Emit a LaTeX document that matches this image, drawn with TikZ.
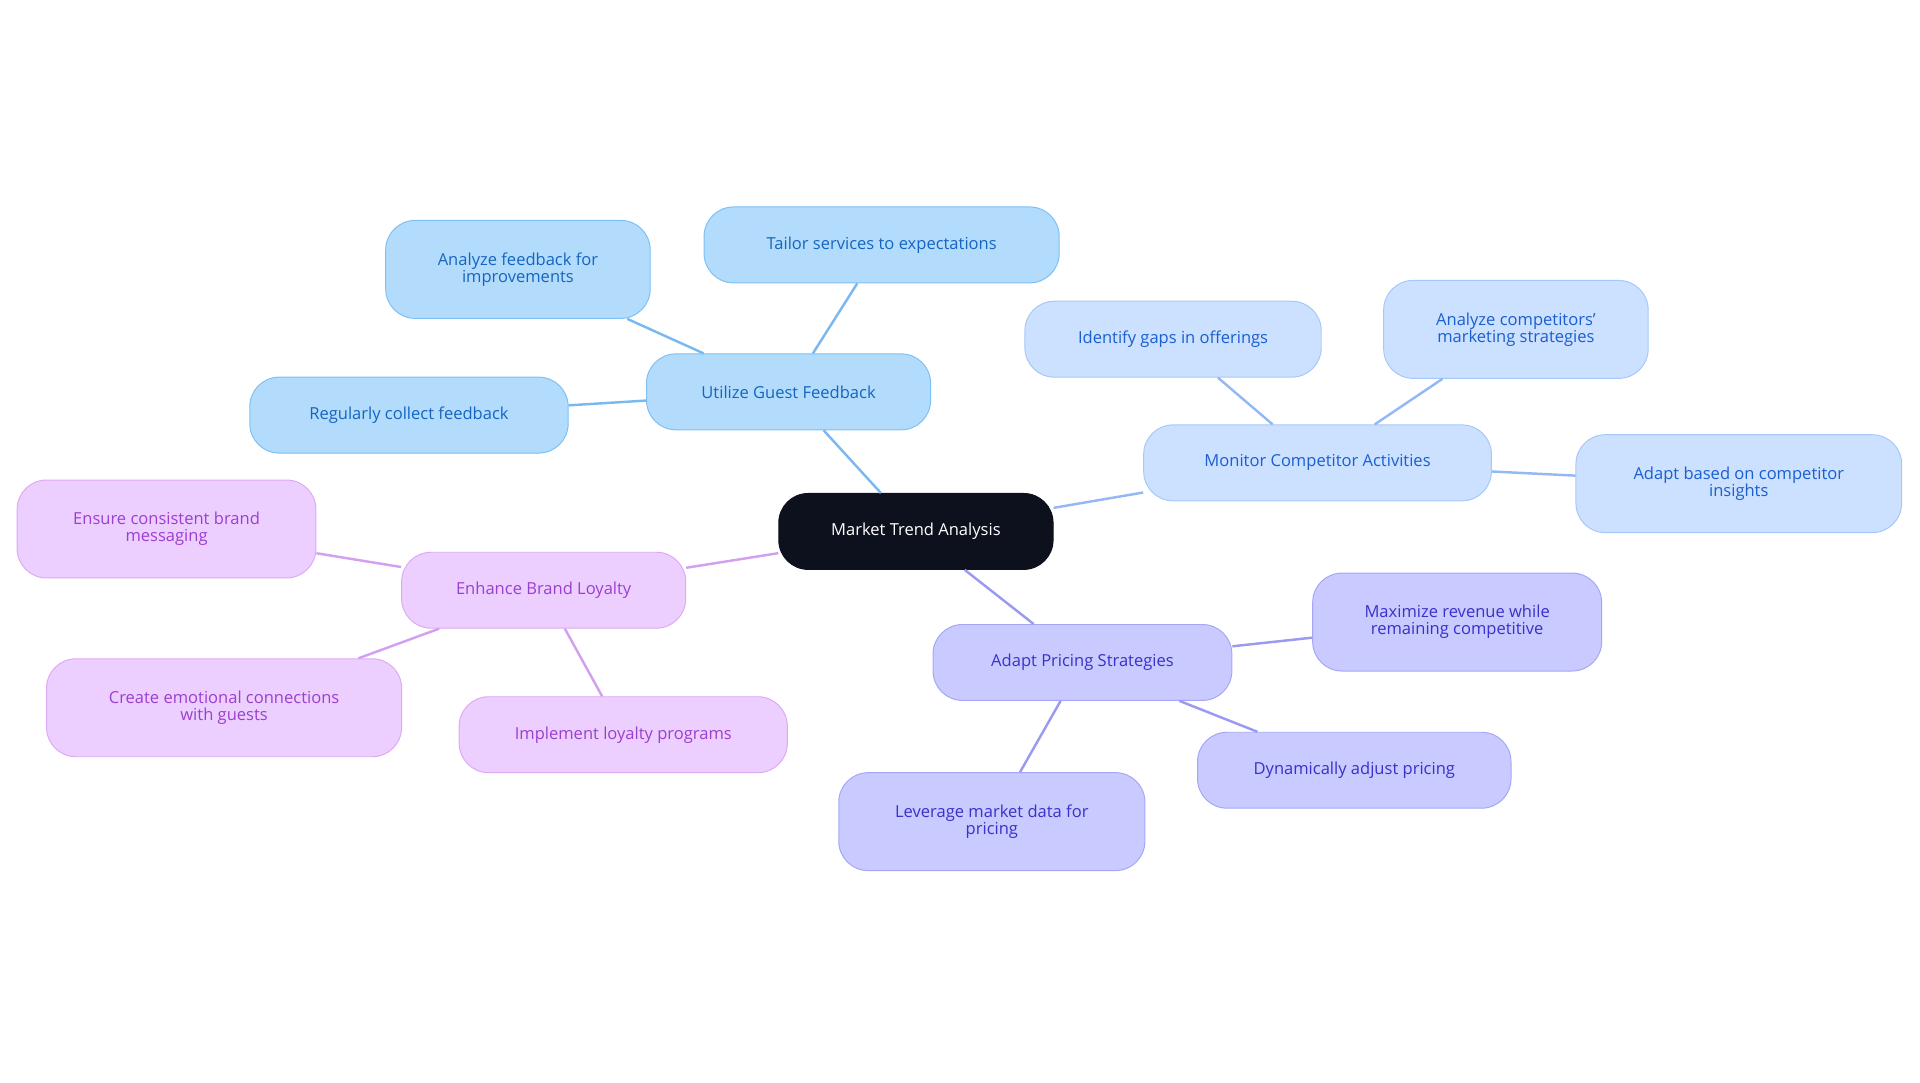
\documentclass[tikz,border=0pt]{standalone}
\usepackage{fontspec}
\setmainfont{Open Sans}
\begin{document}
\begin{tikzpicture}[x=1pt,y=1pt,
 base/.style={draw,line width=0.8pt,rounded corners=24pt,align=center,inner sep=0pt,font=\fontsize{13.5}{14}\selectfont},
 root/.style={base,fill=c0,draw=c0,text=white,minimum width=224pt,minimum height=62pt},
 gbox/.style={base,fill=gF,draw=gD,text=gT},
 cbox/.style={base,fill=cF,draw=cD,text=cT},
 pbox/.style={base,fill=pF,draw=pD,text=pT},
 lbox/.style={base,fill=lF,draw=lD,text=lT},
 ge/.style={draw=gE,line width=2pt},
 ce/.style={draw=cE,line width=2pt},
 pe/.style={draw=pE,line width=2pt},
 le/.style={draw=lE,line width=2pt}]
\definecolor{c0}{HTML}{0C111D}
\definecolor{gF}{HTML}{B3DCFC}\definecolor{gD}{HTML}{7CC0F5}\definecolor{gT}{HTML}{1565C0}\definecolor{gE}{HTML}{7AB8F0}
\definecolor{cF}{HTML}{CCE0FF}\definecolor{cD}{HTML}{A6C8F8}\definecolor{cT}{HTML}{1A5FD0}\definecolor{cE}{HTML}{93B8F5}
\definecolor{pF}{HTML}{C9CAFF}\definecolor{pD}{HTML}{A5A6F6}\definecolor{pT}{HTML}{3B30C8}\definecolor{pE}{HTML}{9A9AF0}
\definecolor{lF}{HTML}{ECCFFF}\definecolor{lD}{HTML}{DCAAF5}\definecolor{lT}{HTML}{9B3FD0}\definecolor{lE}{HTML}{D3A0F0}
\useasboundingbox (0,0) rectangle (1568,-884);
\node[root] (r) at (748,-434) {Market Trend Analysis};
\node[gbox,minimum width=232pt,minimum height=62pt] (g) at (644,-320) {Utilize Guest Feedback};
\node[gbox,minimum width=216pt,minimum height=80pt] (g1) at (423,-220) {Analyze feedback for\\improvements};
\node[gbox,minimum width=290pt,minimum height=62pt] (g2) at (720,-200) {Tailor services to expectations};
\node[gbox,minimum width=260pt,minimum height=62pt] (g3) at (334,-339) {Regularly collect feedback};
\node[cbox,minimum width=284pt,minimum height=62pt] (c) at (1076,-378) {Monitor Competitor Activities};
\node[cbox,minimum width=242pt,minimum height=62pt] (c1) at (958,-277) {Identify gaps in offerings};
\node[cbox,minimum width=216pt,minimum height=80pt] (c2) at (1238,-269) {Analyze competitors'\\marketing strategies};
\node[cbox,minimum width=266pt,minimum height=80pt] (c3) at (1420,-395) {Adapt based on competitor\\insights};
\node[pbox,minimum width=244pt,minimum height=62pt] (p) at (884,-541) {Adapt Pricing Strategies};
\node[pbox,minimum width=236pt,minimum height=80pt] (p1) at (1190,-508) {Maximize revenue while\\remaining competitive};
\node[pbox,minimum width=256pt,minimum height=62pt] (p2) at (1106,-629) {Dynamically adjust pricing};
\node[pbox,minimum width=250pt,minimum height=80pt] (p3) at (810,-671) {Leverage market data for\\pricing};
\node[lbox,minimum width=232pt,minimum height=62pt] (l) at (444,-482) {Enhance Brand Loyalty};
\node[lbox,minimum width=244pt,minimum height=80pt] (l1) at (136,-432) {Ensure consistent brand\\messaging};
\node[lbox,minimum width=290pt,minimum height=80pt] (l2) at (183,-578) {Create emotional connections\\with guests};
\node[lbox,minimum width=268pt,minimum height=62pt] (l3) at (509,-600) {Implement loyalty programs};
\draw[ge] (r)--(g); \draw[ge] (g)--(g1); \draw[ge] (g)--(g2); \draw[ge] (g)--(g3);
\draw[ce] (r)--(c); \draw[ce] (c)--(c1); \draw[ce] (c)--(c2); \draw[ce] (c)--(c3);
\draw[pe] (r)--(p); \draw[pe] (p)--(p1); \draw[pe] (p)--(p2); \draw[pe] (p)--(p3);
\draw[le] (r)--(l); \draw[le] (l)--(l1); \draw[le] (l)--(l2); \draw[le] (l)--(l3);
\end{tikzpicture}
\end{document}
